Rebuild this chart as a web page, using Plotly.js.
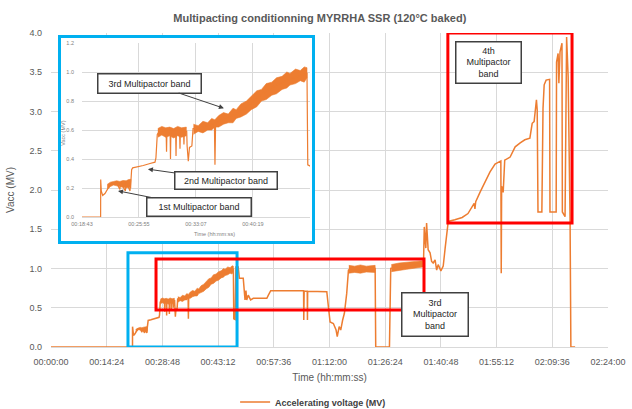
<!DOCTYPE html>
<html><head><meta charset="utf-8">
<script src="https://cdn.plot.ly/plotly-3.0.1.min.js"></script>
<style>
html,body{margin:0;padding:0;background:#fff;}
#wrap{position:relative;width:632px;height:409px;overflow:hidden;}
#main{position:absolute;left:0;top:0;width:632px;height:409px;}
#inset{position:absolute;left:58px;top:35px;width:257px;height:209px;box-sizing:border-box;border:3px solid #00B0F0;background:#fff;overflow:hidden;}
#insetPlot{width:251px;height:203px;}
</style></head><body>
<div id="wrap"><div id="main"></div><div id="inset"><div id="insetPlot"></div></div></div>
<script>
// ---- data (time in minutes, Vacc in MV) ----
const mainTime = [0,21.07,21.08,21.16,21.33,21.62,22.04,22.46,23.1,23.5,23.6,24.2,24.3,24.78,24.9,24.99,25.12,25.83,26.46,27.31,27.94,28.06,28.23,28.57,29.35,29.4,29.45,29.85,29.9,29.95,30.55,30.6,30.65,31.05,31.1,31.15,31.55,31.6,31.65,31.95,32.0,32.15,32.3,32.6,32.75,33.2,34.0,35.45,35.52,35.6,36.6,38.2,39.5,40.8,42.0,43.3,45.0,46.3,47.15,47.25,47.6,47.8,48.4,48.7,49.7,50.16,50.4,50.6,51.0,51.6,52.3,55.8,56.2,56.8,65.3,65.35,65.45,66.25,66.3,66.35,71.3,71.54,71.9,72.15,73.0,73.7,74.0,74.5,74.9,75.4,75.85,76.45,76.9,77.5,83.8,83.95,87.5,87.83,92.8,96.3,96.5,96.9,97.1,97.5,98.0,98.4,98.8,99.3,99.7,100.1,100.8,101.4,101.9,102.3,102.7,104.4,106.3,107.8,108.8,109.4,109.6,109.8,110.9,112.2,113.5,114.8,115.8,116.3,116.4,116.5,116.9,117.3,118.7,120.0,121.3,122.5,123.8,124.4,124.9,125.5,125.7,125.9,126.9,127.05,127.2,127.5,128.0,128.9,129.0,130.6,130.7,131.1,131.3,131.6,132.1,132.2,132.9,133.3,133.7,134.2,134.4,135.5];
const mainVacc = [0,0,0.259,0.178,0.148,0.162,0.201,0.229,0.235,0.19,0.235,0.18,0.24,0.18,0.25,0.327,0.339,0.346,0.355,0.369,0.378,0.408,0.569,0.599,0.59,0.45,0.59,0.59,0.40,0.59,0.59,0.42,0.59,0.59,0.47,0.59,0.59,0.50,0.59,0.59,0.49,0.385,0.48,0.49,0.61,0.61,0.62,0.645,0.36,0.645,0.68,0.71,0.755,0.82,0.87,0.91,0.95,0.975,0.99,0.36,0.35,1.02,1.02,0.875,0.875,0.6,0.72,0.6,0.66,0.6,0.62,0.62,0.66,0.718,0.718,0.344,0.71,0.71,0.344,0.71,0.705,0.556,0.43,0.32,0.30,0.216,0.131,0.26,0.216,0.344,0.43,0.683,0.98,1.0,1.0,0,0,1.0,1.03,1.06,1.53,1.26,1.58,1.24,1.2,1.09,1.07,1.11,0.98,1.05,0.97,1.03,1.26,1.47,1.6,1.62,1.65,1.7,1.78,1.83,1.76,1.85,1.97,2.1,2.23,2.33,2.36,2.37,0.94,2.05,1.97,2.38,2.42,2.55,2.6,2.64,2.66,2.85,2.87,3.15,3.02,1.72,1.72,2.89,3.04,3.34,3.40,3.41,1.72,1.72,3.63,3.74,3.36,3.76,3.87,1.72,1.66,3.95,3.44,1.6,0,0];

// noisy bands (upper / lower envelope of the dense oscillation)
const band1Time = [21.9,22.3,22.7,23.1,23.5,23.9,24.3,24.6,24.9];
const band1High = [0.225,0.24,0.245,0.25,0.245,0.252,0.25,0.258,0.26];
const band1Low  = [0.19,0.21,0.22,0.215,0.21,0.205,0.2,0.205,0.2];
const band2Time = [28.3,28.8,29.3,29.8,30.3,30.8,31.3,31.9];
const band2High = [0.61,0.625,0.615,0.62,0.61,0.625,0.615,0.62];
const band2Low  = [0.55,0.565,0.55,0.56,0.545,0.56,0.55,0.56];
const band3Time = [32.8,33.4,34.0,34.6,35.1,35.5,36.0,36.6,37.2,37.8,38.2,38.8,39.5,40.1,40.8,41.4,42.0,42.7,43.3,44.0,44.6,45.0,45.7,46.3,46.8,47.15];
const band3High = [0.64,0.63,0.66,0.65,0.68,0.67,0.70,0.72,0.71,0.75,0.74,0.78,0.80,0.83,0.87,0.88,0.92,0.93,0.96,0.97,1.0,0.99,1.02,1.01,1.035,1.03];
const band3Low  = [0.57,0.59,0.58,0.60,0.60,0.62,0.62,0.64,0.65,0.65,0.68,0.69,0.71,0.74,0.76,0.80,0.81,0.84,0.85,0.88,0.89,0.91,0.92,0.94,0.93,0.96];
const band4Time = [77.0,78.5,80.0,81.5,83.8];
const band4High = [1.04,1.03,1.045,1.03,1.04];
const band4Low  = [0.94,0.95,0.94,0.955,0.95];
const band5Time = [88.0,90.0,92.0,94.0,96.2];
const band5High = [1.05,1.07,1.08,1.09,1.1];
const band5Low  = [0.96,0.975,0.99,1.0,1.02];

const mainTickVals = [0,14.4,28.8,43.2,57.6,72,86.4,100.8,115.2,129.6,144];
const mainTickText = ['00:00:00','00:14:24','00:28:48','00:43:12','00:57:36','01:12:00','01:26:24','01:40:48','01:55:12','02:09:36','02:24:00'];
const insetTickVals = [18.7167,25.9167,33.1167,40.3167,47.5167];
const insetTickText = ['00:18:43','00:25:55','00:33:07','00:40:19','00:47:31'];

const seriesName = 'Accelerating voltage (MV)';
const titleText = 'Multipacting conditionning MYRRHA SSR (120°C baked)';

// ---- build ----
const ORANGE = '#ED7D31';
const FONT = 'Liberation Sans, Arial, sans-serif';
const bands = [[band1Time,band1High,band1Low],[band2Time,band2High,band2Low],[band3Time,band3High,band3Low],[band4Time,band4High,band4Low],[band5Time,band5High,band5Low]];
const bx = [], by = [];
bands.forEach(([t,h,l], i) => {
  if (i) { bx.push(null); by.push(null); }
  bx.push(...t, ...t.slice().reverse());
  by.push(...h, ...l.slice().reverse());
});
function traces(w){
  return [
    {x: bx, y: by, type:'scatter', mode:'lines', fill:'toself', fillcolor: ORANGE,
     line:{color: ORANGE, width: 0.6}, showlegend:false, hoverinfo:'skip'},
    {x: mainTime, y: mainVacc, type:'scatter', mode:'lines', name: seriesName,
     line:{color: ORANGE, width: w}}
  ];
}
const GRID = '#D9D9D9', TXT = '#595959', BOX = '#404040';

const mainLayout = {
  width:632, height:409, margin:{l:51, r:24, t:33, b:62, autoexpand:false},
  paper_bgcolor:'#fff', plot_bgcolor:'#fff',
  font:{family: FONT, color: TXT},
  title:{text:'<b>'+titleText+'</b>', font:{size:11, color:TXT}, x:0.506, xref:'container', xanchor:'center', y:0.956, yref:'container', yanchor:'middle'},
  xaxis:{range:[0,144], tickvals: mainTickVals, ticktext: mainTickText, showgrid:true, gridcolor:GRID, gridwidth:1,
    showline:true, linecolor:GRID, zeroline:false, ticks:'', ticklabelstandoff:6, tickfont:{size:9, color:TXT},
    title:{text:'Time (hh:mm:ss)', font:{size:10, color:TXT}, standoff:8}},
  yaxis:{range:[0,4], dtick:0.5, tickformat:'.1f', showgrid:true, gridcolor:GRID, zeroline:false, showline:false, ticks:'',
    ticklabelstandoff:8, tickfont:{size:9, color:TXT},
    title:{text:'Vacc (MV)', font:{size:10, color:TXT}, standoff:12}},
  showlegend:true,
  legend:{orientation:'h', xref:'container', x:0.372, xanchor:'left', yref:'container', y:0.017, yanchor:'middle', font:{size:9, color:'#404040', weight:'bold'}, bgcolor:'rgba(0,0,0,0)'},
  shapes:[
    {type:'rect', xref:'x', yref:'y', x0:19.9, x1:48.1, y0:0, y1:1.2, line:{color:'#00B0F0', width:3}},
    {type:'rect', xref:'x', yref:'y', x0:27.15, x1:96.43, y0:0.47, y1:1.12, line:{color:'#FF0000', width:3}},
    {type:'rect', xref:'x', yref:'y', x0:102.6, x1:134.7, y0:1.58, y1:4.0, line:{color:'#FF0000', width:3}}
  ],
  annotations:[
    {x:99.15, y:0.41, xref:'x', yref:'y', text:'3rd<br>Multipactor<br>band', showarrow:false, font:{size:9, color:'#262626'},
     bgcolor:'#fff', bordercolor:BOX, borderwidth:1.5, borderpad:1, width:63, height:40},
    {x:113.2, y:3.62, xref:'x', yref:'y', text:'4th<br>Multipactor<br>band', showarrow:false, font:{size:9, color:'#262626'},
     bgcolor:'#fff', bordercolor:BOX, borderwidth:1.5, borderpad:1, width:62, height:38}
  ]
};

const insetLayout = {
  width:251, height:203, margin:{l:21, r:2, t:5, b:24, autoexpand:false},
  paper_bgcolor:'#fff', plot_bgcolor:'#fff', showlegend:false,
  font:{family: FONT, color: TXT},
  xaxis:{range:[18.7167,47.53], tickvals: insetTickVals, ticktext: insetTickText, showgrid:true, gridcolor:GRID,
    showline:true, linecolor:GRID, zeroline:false, ticks:'', ticklabelstandoff:1, tickfont:{size:5.5, color:'#7f7f7f'}},
  yaxis:{range:[0,1.2], dtick:0.2, tickformat:'.1f', showgrid:true, gridcolor:GRID, zeroline:false, showline:false, ticks:'',
    ticklabelstandoff:7, tickfont:{size:5.5, color:'#7f7f7f'}},
  annotations:[
    {xref:'paper', yref:'paper', x:0.68, y:-0.095, text:'Time (hh:mm:ss)', showarrow:false, font:{size:5.5, color:'#7f7f7f'}, yanchor:'middle'},
    {xref:'paper', yref:'paper', x:-0.082, y:0.48, text:'Vacc (MV)', textangle:-90, showarrow:false, font:{size:5.5, color:'#7f7f7f'}, xanchor:'center'},
    {x:36.65, y:0.75, xref:'x', yref:'y', ax:-74, ay:-25, text:'3rd Multipactor band', showarrow:true, arrowhead:2, arrowsize:1, arrowwidth:1, arrowcolor:BOX,
     font:{size:9, color:'#262626'}, bgcolor:'#fff', bordercolor:BOX, borderwidth:1.5, borderpad:1, width:100, height:16},
    {x:27.05, y:0.33, xref:'x', yref:'y', ax:78, ay:11, text:'2nd Multipactor band', showarrow:true, arrowhead:2, arrowsize:1, arrowwidth:1, arrowcolor:BOX,
     font:{size:9, color:'#262626'}, bgcolor:'#fff', bordercolor:BOX, borderwidth:1.5, borderpad:1, width:99, height:14},
    {x:23.27, y:0.18, xref:'x', yref:'y', ax:81, ay:16, text:'1st Multipactor band', showarrow:true, arrowhead:2, arrowsize:1, arrowwidth:1, arrowcolor:BOX,
     font:{size:9, color:'#262626'}, bgcolor:'#fff', bordercolor:BOX, borderwidth:1.5, borderpad:1, width:101, height:15}
  ]
};

const cfg = {displayModeBar:false, staticPlot:true};
Plotly.newPlot('main', traces(1.5), mainLayout, cfg);
Plotly.newPlot('insetPlot', traces(1.2), insetLayout, cfg);
</script></body></html>
